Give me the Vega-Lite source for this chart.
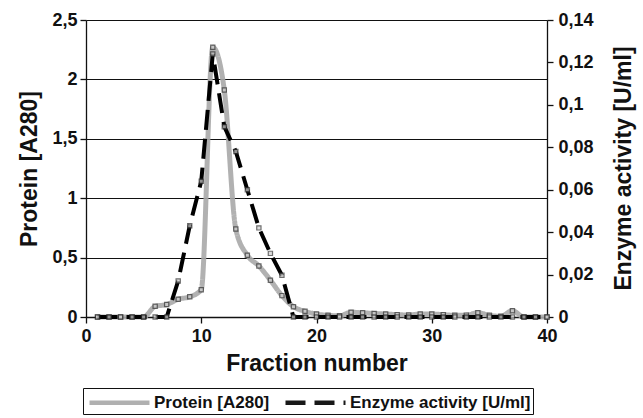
{
  "$schema": "https://vega.github.io/schema/vega-lite/v6.json",
  "width": 461,
  "height": 297,
  "autosize": {"type": "none"},
  "padding": {"left": 86, "top": 20, "right": 96, "bottom": 101},
  "background": "white",
  "config": {
    "locale": {"number": {"decimal": ",", "thousands": ".", "grouping": [3], "currency": ["", " €"]}},
    "font": "Liberation Sans",
    "view": {"stroke": null},
    "axis": {
      "labelFont": "Liberation Sans", "titleFont": "Liberation Sans",
      "labelFontWeight": "bold", "titleFontWeight": "bold",
      "labelColor": "#111", "titleColor": "#111",
      "domainColor": "#111", "tickColor": "#111", "domainWidth": 1.3, "tickWidth": 1.3
    }
  },
  "data": {"values": [
    {"fraction": 1, "protein": 0, "enzyme": 0},
    {"fraction": 2, "protein": 0, "enzyme": 0},
    {"fraction": 3, "protein": 0, "enzyme": 0},
    {"fraction": 4, "protein": 0, "enzyme": 0},
    {"fraction": 5, "protein": 0, "enzyme": 0},
    {"fraction": 6, "protein": 0.09, "enzyme": 0},
    {"fraction": 7, "protein": 0.105, "enzyme": 0},
    {"fraction": 8, "protein": 0.15, "enzyme": 0.017},
    {"fraction": 9, "protein": 0.17, "enzyme": 0.043},
    {"fraction": 10, "protein": 0.23, "enzyme": 0.064},
    {"fraction": 11, "protein": 2.27, "enzyme": 0.124},
    {"fraction": 12, "protein": 1.91, "enzyme": 0.0897},
    {"fraction": 13, "protein": 0.74, "enzyme": 0.078},
    {"fraction": 14, "protein": 0.52, "enzyme": 0.06},
    {"fraction": 15, "protein": 0.43, "enzyme": 0.042},
    {"fraction": 16, "protein": 0.31, "enzyme": 0.03},
    {"fraction": 17, "protein": 0.18, "enzyme": 0.0197},
    {"fraction": 18, "protein": 0.087, "enzyme": 0},
    {"fraction": 19, "protein": 0.048, "enzyme": 0},
    {"fraction": 20, "protein": 0.025, "enzyme": 0},
    {"fraction": 21, "protein": 0.014, "enzyme": 0},
    {"fraction": 22, "protein": 0.01, "enzyme": 0},
    {"fraction": 23, "protein": 0.04, "enzyme": 0},
    {"fraction": 24, "protein": 0.035, "enzyme": 0},
    {"fraction": 25, "protein": 0.03, "enzyme": 0},
    {"fraction": 26, "protein": 0.025, "enzyme": 0},
    {"fraction": 27, "protein": 0.02, "enzyme": 0},
    {"fraction": 28, "protein": 0.017, "enzyme": 0},
    {"fraction": 29, "protein": 0.025, "enzyme": 0},
    {"fraction": 30, "protein": 0.025, "enzyme": 0},
    {"fraction": 31, "protein": 0.02, "enzyme": 0},
    {"fraction": 32, "protein": 0.014, "enzyme": 0},
    {"fraction": 33, "protein": 0.016, "enzyme": 0},
    {"fraction": 34, "protein": 0.036, "enzyme": 0},
    {"fraction": 35, "protein": 0.014, "enzyme": 0},
    {"fraction": 36, "protein": 0.006, "enzyme": 0},
    {"fraction": 37, "protein": 0.053, "enzyme": 0},
    {"fraction": 38, "protein": 0, "enzyme": 0},
    {"fraction": 39, "protein": 0, "enzyme": 0},
    {"fraction": 40, "protein": 0, "enzyme": 0}
  ]},
  "encoding": {
    "x": {
      "field": "fraction", "type": "quantitative",
      "scale": {"domain": [0, 40], "nice": false},
      "axis": {
        "title": "Fraction number", "values": [0, 10, 20, 30, 40], "grid": false,
        "labelFontSize": 18, "titleFontSize": 23, "tickSize": 6, "labelPadding": 4,
        "titlePadding": 7, "labelFlush": false
      }
    }
  },
  "layer": [
    {
      "encoding": {
        "y": {
          "field": "protein", "type": "quantitative",
          "scale": {"domain": [0, 2.5], "nice": false},
          "axis": {
            "title": "Protein [A280]", "orient": "left", "format": ".1~f",
            "values": [0, 0.5, 1, 1.5, 2, 2.5],
            "grid": true, "gridColor": "#111", "gridWidth": 1.2, "gridOpacity": 1,
            "labelFontSize": 18, "titleFontSize": 23, "tickSize": 6, "labelPadding": 3,
            "titlePadding": 10
          }
        }
      },
      "layer": [
        {
          "mark": {"type": "line", "interpolate": "monotone", "strokeWidth": 5, "opacity": 0.9},
          "encoding": {
            "color": {"datum": "Protein [A280]", "type": "nominal",
              "scale": {"domain": ["Protein [A280]", "Enzyme activity [U/ml]"], "range": ["#a8a8a8", "#000000"]},
              "legend": {
                "title": null, "orient": "none", "legendX": -3, "legendY": 368,
                "direction": "horizontal", "columns": 2,
                "symbolType": "M-3,0H3", "symbolSize": 400, "symbolStrokeWidth": 4.5,
                "labelFont": "Liberation Sans", "labelFontWeight": "bold", "labelFontSize": 17,
                "labelColor": "#111", "labelLimit": 0, "columnPadding": 6, "symbolOffset": 22, "labelOffset": 22,
                "strokeColor": "#111", "padding": 2
              }
            },
            "strokeDash": {"datum": "Protein [A280]", "type": "nominal",
              "scale": {"domain": ["Protein [A280]", "Enzyme activity [U/ml]"], "range": [[1, 0], [20, 9]]},
              "legend": null
            }
          }
        },
        {
          "mark": {"type": "point", "shape": "square", "size": 18, "filled": true, "color": "#cfcfcf", "stroke": "#333", "strokeWidth": 1.2}
        }
      ]
    },
    {
      "encoding": {
        "y": {
          "field": "enzyme", "type": "quantitative",
          "scale": {"domain": [0, 0.14], "nice": false},
          "axis": {
            "title": "Enzyme activity [U/ml]", "orient": "right", "format": ".2~f",
            "values": [0, 0.02, 0.04, 0.06, 0.08, 0.1, 0.12, 0.14],
            "grid": false, "labelFontSize": 18, "titleFontSize": 23, "tickSize": 6,
            "labelPadding": 5, "titleAngle": 270, "titleX": 76, "titleY": 148,
            "titleAlign": "center", "titleBaseline": "middle"
          }
        }
      },
      "layer": [
        {
          "mark": {"type": "line", "strokeWidth": 4},
          "encoding": {
            "color": {"datum": "Enzyme activity [U/ml]", "type": "nominal"},
            "strokeDash": {"datum": "Enzyme activity [U/ml]", "type": "nominal"}
          }
        },
        {
          "mark": {"type": "point", "shape": "square", "size": 18, "filled": true, "color": "#cfcfcf", "stroke": "#333", "strokeWidth": 1.2}
        }
      ]
    }
  ],
  "resolve": {"scale": {"y": "independent"}}
}
